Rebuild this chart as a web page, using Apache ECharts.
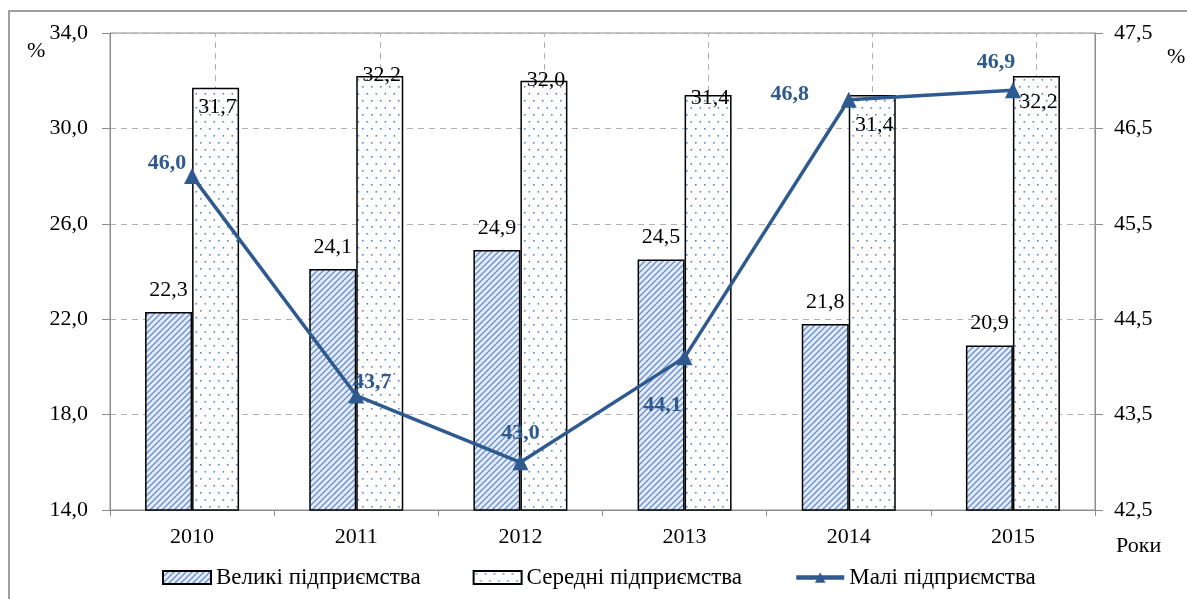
<!DOCTYPE html>
<html>
<head>
<meta charset="utf-8">
<script src="https://cdn.jsdelivr.net/npm/echarts@6/dist/echarts.min.js"></script>
<style>
  html, body { margin: 0; padding: 0; background: #fff; }
  #chart { width: 1187px; height: 599px; }
</style>
</head>
<body>
<div id="chart"></div>
<script>
// data
var years = ['2010', '2011', '2012', '2013', '2014', '2015'];
var largeVals = [22.3, 24.1, 24.9, 24.5, 21.8, 20.9];
var mediumVals = [31.7, 32.2, 32.0, 31.4, 31.4, 32.2];
var smallVals = [46.0, 43.7, 43.0, 44.1, 46.8, 46.9];
var seriesNames = ['Великі підприємства', 'Середні підприємства', 'Малі підприємства'];

// label nudges (pixels), one per year
var mediumLabelShift = [8, -12, -11, -8, 19, 15];
var smallLabelShift = [[-25, -13], [16, -13], [0, -29], [-22, 48], [-59, -5], [-17, -28]];

var serif = '"Liberation Serif", "Times New Roman", serif';
var lineBlue = '#2F5A8F';
var fs = 22;

function fmt(v) { return Number(v).toFixed(1).replace('.', ','); }

// hatch pattern for large enterprises
function hatch() {
  var c = document.createElement('canvas');
  c.width = 6; c.height = 6;
  var ctx = c.getContext('2d');
  ctx.fillStyle = '#e3ebf7';
  ctx.fillRect(0, 0, 6, 6);
  ctx.strokeStyle = '#6a8ec8';
  ctx.lineWidth = 1.3;
  ctx.beginPath();
  ctx.moveTo(0, 6); ctx.lineTo(6, 0);
  ctx.moveTo(-1, 1); ctx.lineTo(1, -1);
  ctx.moveTo(5, 7); ctx.lineTo(7, 5);
  ctx.stroke();
  return c;
}
// dotted pattern for medium enterprises
function dots() {
  var c = document.createElement('canvas');
  c.width = 9; c.height = 14;
  var ctx = c.getContext('2d');
  ctx.fillStyle = '#ffffff';
  ctx.fillRect(0, 0, 9, 14);
  ctx.fillStyle = '#5f86c6';
  ctx.fillRect(2, 2, 1.6, 1.6);
  ctx.fillRect(6.5, 9, 1.6, 1.6);
  return c;
}

var chart = echarts.init(document.getElementById('chart'));

chart.setOption({
  animation: false,
  backgroundColor: '#fff',
  textStyle: { fontFamily: serif },
  grid: {
    left: 110, right: 92, top: 33, bottom: 89,
    show: true, borderColor: '#8c8c8c', borderWidth: 1
  },
  legend: {
    left: 157, top: 561,
    itemWidth: 48, itemHeight: 13, itemGap: 52,
    textStyle: { fontFamily: serif, fontSize: 23, color: '#000' },
    data: [
      { name: seriesNames[0], icon: 'rect' },
      { name: seriesNames[1], icon: 'rect' },
      { name: seriesNames[2], lineStyle: { width: 4.5 } }
    ]
  },
  xAxis: {
    type: 'category',
    data: years,
    axisLine: { lineStyle: { color: '#8c8c8c', width: 1 } },
    axisTick: { show: true, length: 6, lineStyle: { color: '#8c8c8c' } },
    axisLabel: { color: '#000', fontSize: fs, fontFamily: serif, margin: 16 }
  },
  yAxis: [
    {
      type: 'value', min: 14, max: 34, interval: 4,
      axisLine: { show: true, lineStyle: { color: '#8c8c8c' } },
      axisTick: { show: true, length: 8, lineStyle: { color: '#8c8c8c' } },
      axisLabel: { color: '#000', fontSize: fs, fontFamily: serif, margin: 22, formatter: fmt },
      splitLine: { show: true, lineStyle: { color: '#b0b0b0', type: [6, 5], width: 1 } }
    },
    {
      type: 'value', min: 42.5, max: 47.5, interval: 1,
      axisLine: { show: true, lineStyle: { color: '#8c8c8c' } },
      axisTick: { show: true, length: 8, lineStyle: { color: '#8c8c8c' } },
      axisLabel: { color: '#000', fontSize: fs, fontFamily: serif, margin: 19, formatter: fmt },
      splitLine: { show: false }
    }
  ],
  graphic: [
    { type: 'rect', silent: true, z: 100,
      shape: { x: 9, y: 11, width: 1300, height: 700 },
      style: { fill: null, stroke: '#a0a0a0', lineWidth: 2 } },
    { type: 'text', left: 27, top: 40,
      style: { text: '%', font: fs + 'px ' + serif, fill: '#000' } },
    { type: 'text', left: 1167, top: 46,
      style: { text: '%', font: fs + 'px ' + serif, fill: '#000' } },
    { type: 'text', left: 1116, top: 535,
      style: { text: 'Роки', font: fs + 'px ' + serif, fill: '#000' } }
  ],
  series: [
    {
      name: seriesNames[0],
      type: 'bar',
      barWidth: 47,
      barGap: '0%',
      data: largeVals,
      itemStyle: {
        color: { image: hatch(), repeat: 'repeat' },
        borderColor: '#000', borderWidth: 1.5
      },
      label: {
        show: true, position: 'top', distance: 11,
        color: '#000', fontSize: fs, fontFamily: serif,
        formatter: function (p) { return fmt(p.value); }
      }
    },
    {
      name: seriesNames[1],
      type: 'bar',
      barWidth: 47,
      data: mediumVals.map(function (v, i) {
        return { value: v, label: { offset: [2, mediumLabelShift[i]] } };
      }),
      itemStyle: {
        color: { image: dots(), repeat: 'repeat' },
        borderColor: '#000', borderWidth: 1.5
      },
      label: {
        show: true, position: 'insideTop', distance: 0,
        color: '#000', fontSize: fs, fontFamily: serif,
        formatter: function (p) { return fmt(p.value); }
      },
      markLine: {
        z: 1,
        silent: true,
        symbol: 'none',
        label: { show: false },
        lineStyle: { color: '#b0b0b0', type: [6, 5], width: 1 },
        data: years.map(function (y) { return { xAxis: y }; })
      }
    },
    {
      name: seriesNames[2],
      type: 'line',
      yAxisIndex: 1,
      z: 5,
      symbol: 'triangle',
      symbolSize: 16,
      data: smallVals.map(function (v, i) {
        return { value: v, label: { offset: smallLabelShift[i] } };
      }),
      lineStyle: { color: lineBlue, width: 3.5 },
      itemStyle: { color: lineBlue },
      label: {
        show: true, position: 'inside',
        color: lineBlue, fontWeight: 'bold', fontSize: fs, fontFamily: serif,
        formatter: function (p) { return fmt(p.value); }
      }
    }
  ]
});
</script>
</body>
</html>
